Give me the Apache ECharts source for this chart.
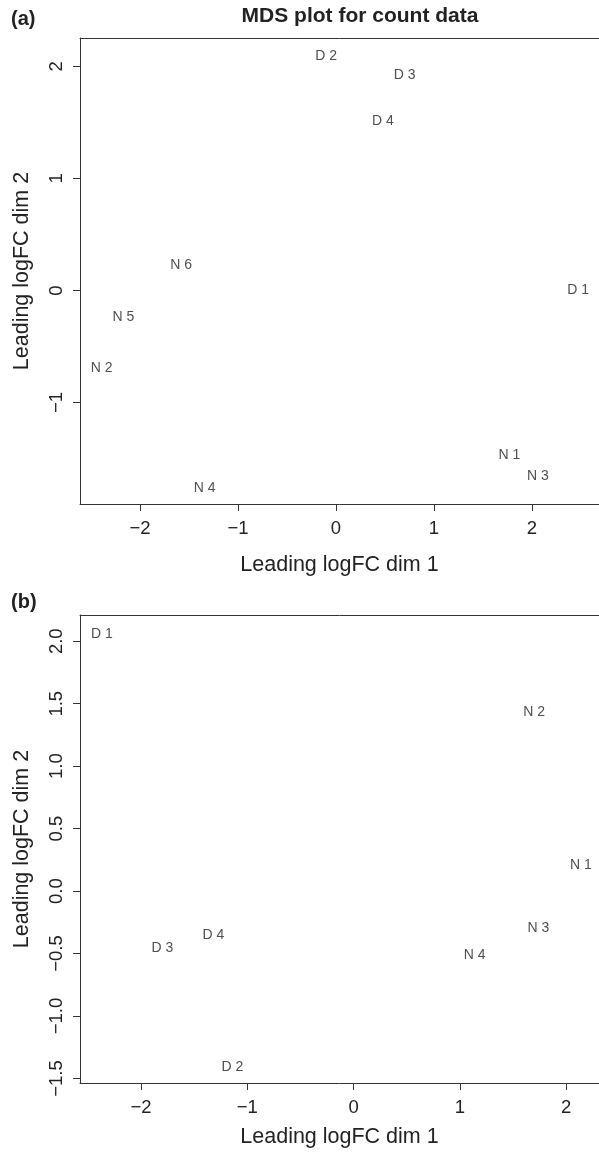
<!DOCTYPE html>
<html><head><meta charset="utf-8">
<script src="https://cdn.jsdelivr.net/npm/echarts@6/dist/echarts.min.js"></script>
<style>html,body{margin:0;padding:0;background:#fff}#c{width:599px;height:1153px}</style>
</head><body><div id="c"></div>
<script>
// Panel (a)
const labelsA = ['D 1','D 2','D 3','D 4','N 1','N 2','N 3','N 4','N 5','N 6'];
const xA = [2.47, -0.10, 0.70, 0.48, 1.77, -2.39, 2.06, -1.34, -2.17, -1.58];
const yA = [0.00, 2.09, 1.92, 1.51, -1.47, -0.69, -1.66, -1.76, -0.24, 0.225];
const xTicksA = [-2, -1, 0, 1, 2];
const yTicksA = [-1, 0, 1, 2];
// Panel (b)
const labelsB = ['D 1','D 2','D 3','D 4','N 1','N 2','N 3','N 4'];
const xB = [-2.37, -1.14, -1.80, -1.32, 2.14, 1.70, 1.74, 1.14];
const yB = [2.06, -1.41, -0.46, -0.35, 0.21, 1.43, -0.30, -0.51];
const xTicksB = [-2, -1, 0, 1, 2];
const yTicksB = [-1.5, -1.0, -0.5, 0.0, 0.5, 1.0, 1.5, 2.0];

const FONT = '"Liberation Sans", Arial, sans-serif';
const minus = s => String(s).replace('-', '\u2212');
const lineStyle = {color: '#333', width: 1};

function xAxisBottom(grid, min, max, ticks, gap) {
  return {
    type: 'value', gridIndex: grid, position: 'bottom', min, max,
    splitLine: {show: false},
    axisLine: {show: true, onZero: false, lineStyle},
    axisTick: {show: true, length: 7, lineStyle, customValues: ticks},
    axisLabel: {color: '#222', fontSize: 18.5, fontFamily: FONT, margin: 15,
      customValues: ticks, formatter: v => minus(v)},
    name: 'Leading logFC dim 1', nameLocation: 'middle', nameGap: gap,
    nameTextStyle: {color: '#222', fontSize: 21.5, fontFamily: FONT}
  };
}
function xAxisTop(grid, min, max) {
  return {
    type: 'value', gridIndex: grid, position: 'top', min, max,
    splitLine: {show: false},
    axisLine: {show: true, onZero: false, lineStyle},
    axisTick: {show: false}, axisLabel: {show: false}
  };
}
function yAxisLeft(grid, min, max, ticks, fmt) {
  return {
    type: 'value', gridIndex: grid, min, max,
    splitLine: {show: false},
    axisLine: {show: true, onZero: false, lineStyle},
    axisTick: {show: true, length: 7, lineStyle, customValues: ticks},
    axisLabel: {color: '#222', fontSize: 18.5, fontFamily: FONT, margin: 14, rotate: 90,
      customValues: ticks, formatter: fmt},
    name: 'Leading logFC dim 2', nameLocation: 'middle', nameGap: 47, nameRotate: 90,
    nameTextStyle: {color: '#222', fontSize: 21.5, fontFamily: FONT}
  };
}
function pts(xs, ys, names) {
  return xs.map((x, i) => ({name: names[i], value: [x, ys[i]]}));
}
function series(idx, data) {
  return {
    type: 'scatter', xAxisIndex: idx * 2, yAxisIndex: idx, symbolSize: 0,
    data, silent: true,
    label: {show: true, position: 'inside', formatter: p => p.name,
      color: '#222', fontSize: 14, fontFamily: FONT}
  };
}

const chart = echarts.init(document.getElementById('c'), null, {renderer: 'canvas'});
chart.setOption({
  backgroundColor: '#fff',
  animation: false,
  title: [
    {text: 'MDS plot for count data', left: 355, top: 1, textAlign: 'center',
      textStyle: {fontSize: 21, fontWeight: 'bold', color: '#222', fontFamily: FONT}},
    {text: '(a)', left: 6, top: 4,
      textStyle: {fontSize: 20, fontWeight: 'bold', color: '#222', fontFamily: FONT}},
    {text: '(b)', left: 6, top: 587,
      textStyle: {fontSize: 20, fontWeight: 'bold', color: '#222', fontFamily: FONT}}
  ],
  grid: [
    {left: 80, top: 38, width: 519, height: 466},
    {left: 80, top: 615, width: 519, height: 468}
  ],
  xAxis: [
    xAxisBottom(0, -2.612, 2.684, xTicksA, 50),
    xAxisTop(0, -2.612, 2.684),
    xAxisBottom(1, -2.575, 2.31, xTicksB, 43),
    xAxisTop(1, -2.575, 2.31)
  ],
  yAxis: [
    yAxisLeft(0, -1.906, 2.254, yTicksA, v => minus(v)),
    yAxisLeft(1, -1.536, 2.21, yTicksB, v => minus(v.toFixed(1)))
  ],
  series: [
    series(0, pts(xA, yA, labelsA)),
    series(1, pts(xB, yB, labelsB))
  ]
});
</script></body></html>
